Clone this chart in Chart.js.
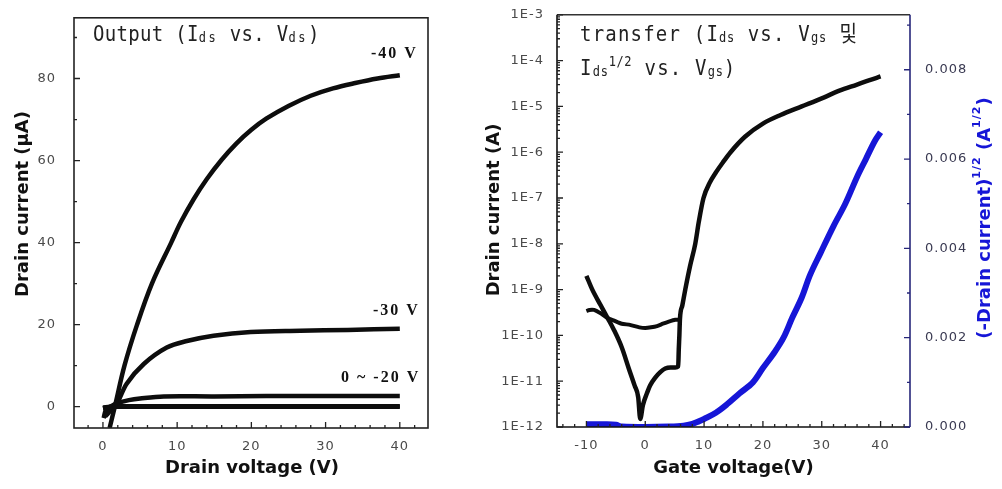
<!DOCTYPE html>
<html><head><meta charset="utf-8">
<script src="https://cdn.jsdelivr.net/npm/chart.js@4.4.1/dist/chart.umd.min.js"></script>
<style>
html,body{margin:0;padding:0;background:#fff;width:1002px;height:489px;overflow:hidden}
#c1{position:absolute;left:0;top:0}
#c2{position:absolute;left:470px;top:0}
</style></head><body>
<canvas id="c1" width="470" height="489"></canvas>
<canvas id="c2" width="532" height="489"></canvas>
<script>
// ================= DATA: output characteristics (Ids vs Vds) =================
const outXTicks = [0, 10, 20, 30, 40];
const outYTicks = [0, 20, 40, 60, 80];
const outXMinor = [-2, 2, 4, 6, 8, 12, 14, 16, 18, 22, 24, 26, 28, 32, 34, 36, 38, 42];
const outYMinor = [10, 30, 50, 70, 90];
const outLabels = ['-40 V', '-30 V', '0 ~ -20 V'];

const vg40X = [0.9, 1.6, 2.9, 4.6, 6.6, 9.2, 10.5, 12.2, 14, 16, 18, 20, 22, 25, 28, 31, 34, 37, 40];
const vg40Y = [-5.2, 0, 10, 20, 30, 40, 45, 50.5, 55.5, 60.2, 64.2, 67.5, 70.2, 73.3, 75.8, 77.6, 78.9, 80, 80.8];
const vg30X = [0.3, 1.0, 1.9, 3.2, 5.5, 8.6, 11.3, 14.9, 19.9, 26.6, 33, 40];
const vg30Y = [-2.4, -1, 0.8, 5.6, 10.4, 14.4, 16, 17.3, 18.2, 18.5, 18.7, 19];
const vg20X = [0.1, 0.4, 1, 2, 3.5, 5, 8.2, 15, 22, 30, 40];
const vg20Y = [-2.8, -0.8, 0, 0.9, 1.6, 2.0, 2.5, 2.5, 2.6, 2.6, 2.6];
const vg10X = [0, 1, 2, 5, 10, 20, 30, 40];
const vg10Y = [-0.4, 0, 0.1, 0.1, 0.1, 0.1, 0.1, 0.1];
const vg0X = [0, 1, 2, 5, 10, 20, 30, 40];
const vg0Y = [-0.2, 0, 0, 0, 0, 0, 0, 0];

// ================= DATA: transfer characteristics (Ids vs Vgs) =================
const trXTicks = [-10, 0, 10, 20, 30, 40];
const trXMinor = [-14, -12, -8, -6, -4, -2, 2, 4, 6, 8, 12, 14, 16, 18, 22, 24, 26, 28, 32, 34, 36, 38, 42, 44];
const trLogTicks = [1e-12, 1e-11, 1e-10, 1e-9, 1e-8, 1e-7, 1e-6, 1e-5, 1e-4, 1e-3];
const trLogMinorMult = [2, 3, 4, 5, 6, 7, 8, 9];
const trSqrtTicks = [0, 0.002, 0.004, 0.006, 0.008];
const trSqrtMinor = [0.001, 0.003, 0.005, 0.007, 0.009];

// forward sweep (-10 V -> +40 V)
const fwdX = [-10, -9, -7.6, -6.4, -5.3, -4, -2.8, -1.8, -1.2, -0.85, -0.4, 0.3, 0.8, 1.7, 2.6, 3.4, 4.3, 5.1, 5.6, 5.7, 5.8, 5.9, 6.3, 6.8, 7.6, 8.5, 9.1, 9.9, 11, 12, 13.2, 14.5, 17, 20, 23, 26.6, 30, 33, 36, 38, 40];
const fwdY = [2e-9, 1e-9, 4.6e-10, 2.4e-10, 1.3e-10, 5.5e-11, 1.9e-11, 8e-12, 4.5e-12, 1.5e-12, 3e-12, 5.5e-12, 8e-12, 1.2e-11, 1.6e-11, 1.9e-11, 2e-11, 2e-11, 2.1e-11, 5e-11, 1e-10, 2.3e-10, 4.5e-10, 1e-9, 3.2e-9, 1e-8, 3e-8, 1e-7, 2.2e-7, 3.6e-7, 6e-7, 1e-6, 2.2e-6, 4.2e-6, 6.5e-6, 1e-5, 1.5e-5, 2.2e-5, 3e-5, 3.7e-5, 4.5e-5];
// reverse sweep, off-state branch (+6 V -> -10 V)
const revX = [5.8, 5.1, 4, 3, 2, 1, 0, -1, -2.6, -4, -5.3, -6.4, -7.5, -8.7, -9.5, -10];
const revY = [2.2e-10, 2.2e-10, 2e-10, 1.8e-10, 1.6e-10, 1.5e-10, 1.45e-10, 1.5e-10, 1.7e-10, 1.8e-10, 2.1e-10, 2.4e-10, 3e-10, 3.6e-10, 3.6e-10, 3.4e-10];
// (-Ids)^1/2
const sqX = [-10, -7, -5, -4, 0, 4, 6.5, 8, 9, 10, 12, 14, 16, 18.3, 20, 22, 23.5, 25, 26.6, 28, 29.8, 32, 34, 36, 37.5, 39, 40];
const sqY = [0.00006, 0.00006, 0.00005, 0.00001, 0, 0.00001, 0.00003, 0.00007, 0.00012, 0.00018, 0.00032, 0.00052, 0.00075, 0.001, 0.00132, 0.00168, 0.002, 0.00245, 0.0029, 0.0034, 0.0039, 0.0045, 0.005, 0.0056, 0.006, 0.0064, 0.0066];

// ================= helpers =================
const pts = (xs, ys) => xs.map((x, i) => ({x: x, y: ys[i]}));
const TICKC = '#4a4a4a';
const TICKFONT = {family: 'DejaVu Sans', size: 13};
const BLUE = 'rgb(22,22,215)';
const NAVY = '#26267a';

function drawSeq(ctx, segs, x, y, color) {
  for (const s of segs) {
    ctx.font = s.font; ctx.letterSpacing = (s.ls || 0) + 'px';
    ctx.fillStyle = s.color || color;
    ctx.fillText(s.t, x, y + (s.dy || 0));
    x += ctx.measureText(s.t).width;
  }
}
function seqWidth(ctx, segs) {
  let w = 0;
  for (const s of segs) { ctx.font = s.font; ctx.letterSpacing = (s.ls || 0) + 'px'; w += ctx.measureText(s.t).width; }
  return w;
}
function drawRotSeq(ctx, segs, cx, cy, color) {
  ctx.save(); ctx.translate(cx, cy); ctx.rotate(-Math.PI / 2);
  ctx.textBaseline = 'middle'; ctx.textAlign = 'left';
  const w = seqWidth(ctx, segs);
  drawSeq(ctx, segs, -w / 2, 0, color);
  ctx.restore();
}
function ticks(ctx, scale, values, len, side, ca, color) {
  ctx.beginPath();
  for (const v of values) {
    const p = scale.getPixelForValue(v);
    if (side === 'bottom') {
      if (p < ca.left - 0.5 || p > ca.right + 0.5) continue;
      ctx.moveTo(p, ca.bottom); ctx.lineTo(p, ca.bottom - len);
    } else if (side === 'left') {
      if (p < ca.top - 0.5 || p > ca.bottom + 0.5) continue;
      ctx.moveTo(ca.left, p); ctx.lineTo(ca.left + len, p);
    } else {
      if (p < ca.top - 0.5 || p > ca.bottom + 0.5) continue;
      ctx.moveTo(ca.right, p); ctx.lineTo(ca.right - len, p);
    }
  }
  ctx.strokeStyle = color; ctx.lineWidth = 1.3; ctx.stroke();
}
const spacingPlugin = {
  id: 'spacing',
  beforeDraw(chart) { chart.ctx.letterSpacing = '1px'; },
  beforeDatasetsDraw(chart) { chart.ctx.letterSpacing = '0px'; }
};
const MONO = 'DejaVu Sans Mono';
const big = (t, ls) => ({t: t, font: '19px "' + MONO + '"', ls: ls});
const sub = (t, ls) => ({t: t, font: '12px "' + MONO + '"', ls: ls, dy: 1});
const sup = (t, ls) => ({t: t, font: '12px "' + MONO + '"', ls: ls, dy: -8});

// ================= LEFT: output =================
const outPlugin = {
  id: 'outDeco',
  afterDraw(chart) {
    const ctx = chart.ctx, ca = chart.chartArea, sx = chart.scales.x, sy = chart.scales.y;
    ctx.save();
    ctx.letterSpacing = '0px';
    ctx.lineWidth = 1.6; ctx.strokeStyle = '#222';
    ctx.strokeRect(ca.left, ca.top, ca.right - ca.left, ca.bottom - ca.top);
    ticks(ctx, sx, outXTicks, 6, 'bottom', ca, '#222');
    ticks(ctx, sx, outXMinor, 3, 'bottom', ca, '#222');
    ticks(ctx, sy, outYTicks, 6, 'left', ca, '#222');
    ticks(ctx, sy, outYMinor, 3, 'left', ca, '#222');
    const tf = 'bold 18px "DejaVu Sans"';
    ctx.textAlign = 'center'; ctx.textBaseline = 'middle';
    ctx.font = tf; ctx.fillStyle = '#111';
    ctx.fillText('Drain voltage (V)', (ca.left + ca.right) / 2 + 1, 468);
    drawRotSeq(ctx, [{t: 'Drain current (\u03bcA)', font: tf}], 23, 204, '#111');
    ctx.textAlign = 'left'; ctx.textBaseline = 'alphabetic';
    ctx.save(); ctx.translate(93, 41); ctx.scale(1, 1.12);
    drawSeq(ctx, [big('Output (I', 0.3), sub('ds', 2.5), big(' vs. V', 0.3), sub('ds', 2.5), big(')', 0.3)], 0, 0, '#222');
    ctx.restore();
    const lf = 'bold 16px "Liberation Serif"';
    drawSeq(ctx, [{t: outLabels[0], font: lf, ls: 2}], 371, 58, '#111');
    drawSeq(ctx, [{t: outLabels[1], font: lf, ls: 2}], 373, 315, '#111');
    drawSeq(ctx, [{t: outLabels[2], font: lf, ls: 2}], 341, 382, '#111');
    ctx.restore();
  }
};
const lineDS = (xs, ys, w) => ({data: pts(xs, ys), showLine: true, borderColor: '#0d0d0d', borderWidth: w, pointRadius: 0, tension: 0.35, fill: false});

new Chart(document.getElementById('c1'), {
  type: 'scatter',
  data: {datasets: [lineDS(vg40X, vg40Y, 4.5), lineDS(vg30X, vg30Y, 4.5), lineDS(vg20X, vg20Y, 4.5), lineDS(vg10X, vg10Y, 4.5), lineDS(vg0X, vg0Y, 4.5)]},
  options: {
    responsive: false, animation: false, devicePixelRatio: 1,
    layout: {autoPadding: false, padding: {top: 12, right: 42, left: 0, bottom: 0}},
    plugins: {legend: {display: false}, tooltip: {enabled: false}},
    scales: {
      x: {type: 'linear', min: -3.9, max: 43.8,
        afterBuildTicks: s => { s.ticks = outXTicks.map(v => ({value: v})); },
        afterFit: s => { s.height = 61; },
        grid: {display: false}, border: {display: false},
        ticks: {padding: 3, color: TICKC, font: TICKFONT, maxRotation: 0}},
      y: {type: 'linear', min: -5.2, max: 94.8,
        afterBuildTicks: s => { s.ticks = outYTicks.map(v => ({value: v})); },
        afterFit: s => { s.width = 74; },
        grid: {display: false}, border: {display: false},
        ticks: {padding: 10, color: TICKC, font: TICKFONT}}
    }
  },
  plugins: [spacingPlugin, outPlugin]
});

// ================= RIGHT: transfer =================
const logMinor = [];
trLogTicks.slice(0, -1).forEach(d => trLogMinorMult.forEach(m => logMinor.push(d * m)));

const trPlugin = {
  id: 'trDeco',
  afterDraw(chart) {
    const ctx = chart.ctx, ca = chart.chartArea, sx = chart.scales.x, sy = chart.scales.y, s2 = chart.scales.y2;
    ctx.save();
    ctx.letterSpacing = '0px';
    ctx.lineWidth = 1.6;
    ctx.strokeStyle = '#333';
    ctx.beginPath(); ctx.moveTo(ca.left, ca.top); ctx.lineTo(ca.right, ca.top); ctx.stroke();
    ctx.strokeStyle = '#111';
    ctx.beginPath(); ctx.moveTo(ca.left, ca.top); ctx.lineTo(ca.left, ca.bottom); ctx.lineTo(ca.right, ca.bottom); ctx.stroke();
    ctx.strokeStyle = NAVY;
    ctx.beginPath(); ctx.moveTo(ca.right, ca.top); ctx.lineTo(ca.right, ca.bottom); ctx.stroke();
    ticks(ctx, sx, trXTicks, 6, 'bottom', ca, '#222');
    ticks(ctx, sx, trXMinor, 3, 'bottom', ca, '#222');
    ticks(ctx, sy, trLogTicks, 6, 'left', ca, '#222');
    ticks(ctx, sy, logMinor, 3, 'left', ca, '#222');
    ticks(ctx, s2, trSqrtTicks, 6, 'right', ca, NAVY);
    ticks(ctx, s2, trSqrtMinor, 3, 'right', ca, NAVY);
    const tf = 'bold 18px "DejaVu Sans"';
    ctx.textAlign = 'center'; ctx.textBaseline = 'middle';
    ctx.font = tf; ctx.fillStyle = '#111';
    ctx.fillText('Gate voltage(V)', (ca.left + ca.right) / 2, 468);
    drawRotSeq(ctx, [{t: 'Drain current (A)', font: tf}], 24, 210, '#111');
    const sf = 'bold 11px "DejaVu Sans"';
    drawRotSeq(ctx, [{t: '(-Drain current)', font: tf}, {t: '1/2', font: sf, dy: -8, ls: 1}, {t: ' (A', font: tf}, {t: '1/2', font: sf, dy: -8, ls: 1}, {t: ')', font: tf}], 515, 218, BLUE);
    ctx.textAlign = 'left'; ctx.textBaseline = 'alphabetic';
    ctx.save(); ctx.translate(110, 41); ctx.scale(1, 1.12);
    drawSeq(ctx, [big('transfer (I', 1.2), sub('ds', 0.8), big(' vs. V', 1.2), sub('gs', 0.8), big(' ', 1.2), {t: '\uBC0F', font: '19px "Noto Sans CJK KR"'}], 0, 0, '#222');
    ctx.restore();
    ctx.save(); ctx.translate(110, 75); ctx.scale(1, 1.12);
    drawSeq(ctx, [big('I', 1.2), sub('ds', 0.8), sup('1/2', 0.5), big(' vs. V', 1.2), sub('gs', 0.8), big(')', 1.2)], 0, 0, '#222');
    ctx.restore();
    ctx.restore();
  }
};

new Chart(document.getElementById('c2'), {
  type: 'scatter',
  data: {datasets: [
    {data: pts(fwdX, fwdY), yAxisID: 'y', showLine: true, borderColor: '#0d0d0d', borderWidth: 4.5, pointRadius: 0, cubicInterpolationMode: 'monotone'},
    {data: pts(revX, revY), yAxisID: 'y', showLine: true, borderColor: '#0d0d0d', borderWidth: 4, pointRadius: 0, tension: 0.2},
    {data: pts(sqX, sqY), yAxisID: 'y2', showLine: true, borderColor: BLUE, borderWidth: 6, pointRadius: 0, tension: 0.35}
  ]},
  options: {
    responsive: false, animation: false, devicePixelRatio: 1,
    layout: {autoPadding: false, padding: {top: 12, right: 0, left: 0, bottom: 0}},
    plugins: {legend: {display: false}, tooltip: {enabled: false}},
    scales: {
      x: {type: 'linear', min: -15, max: 45,
        afterBuildTicks: s => { s.ticks = trXTicks.map(v => ({value: v})); },
        afterFit: s => { s.height = 62; },
        grid: {display: false}, border: {display: false},
        ticks: {padding: 3, color: TICKC, font: TICKFONT, maxRotation: 0}},
      y: {type: 'logarithmic', position: 'left', min: 1e-12, max: 1e-3,
        afterBuildTicks: s => { s.ticks = trLogTicks.map(v => ({value: v})); },
        afterFit: s => { s.width = 87; },
        grid: {display: false}, border: {display: false},
        ticks: {padding: 5, color: TICKC, font: TICKFONT, callback: v => '1E' + Math.round(Math.log10(v))}},
      y2: {type: 'linear', position: 'right', min: 0, max: 0.00923,
        afterBuildTicks: s => { s.ticks = trSqrtTicks.map(v => ({value: v})); },
        afterFit: s => { s.width = 92; },
        grid: {display: false}, border: {display: false},
        ticks: {padding: 7, color: '#3a3a52', font: TICKFONT, callback: v => v.toFixed(3)}}
    }
  },
  plugins: [spacingPlugin, trPlugin]
});
</script>
</body></html>
